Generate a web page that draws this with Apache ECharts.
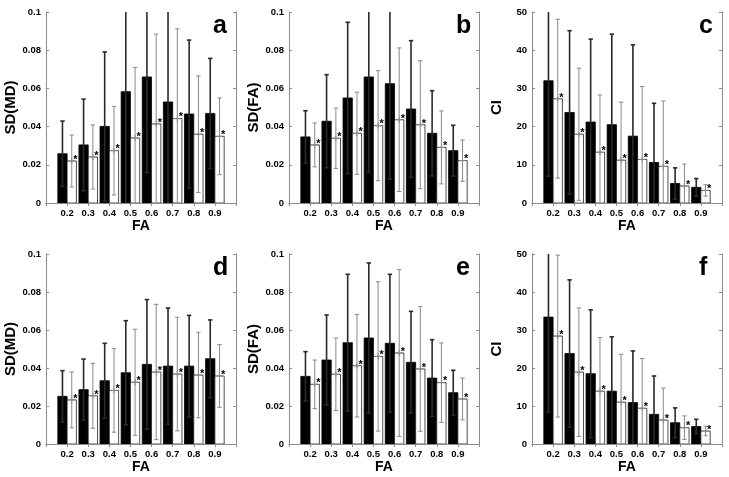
<!DOCTYPE html>
<html><head><meta charset="utf-8">
<script src="https://cdn.jsdelivr.net/npm/echarts@6/dist/echarts.min.js"></script>
<style>html,body{margin:0;padding:0;background:#fff}#c{width:729px;height:477px}</style>
</head><body><div id="c"></div>
<script>
// ---- data ----
const categories = [0.2, 0.3, 0.4, 0.5, 0.6, 0.7, 0.8, 0.9];
const xTickLabels = ['0.2', '0.3', '0.4', '0.5', '0.6', '0.7', '0.8', '0.9'];
const sdTickLabels = ['0', '0.02', '0.04', '0.06', '0.08', '0.1'];
const ciTickLabels = ['0', '10', '20', '30', '40', '50'];
const panelLetters = ['a', 'b', 'c', 'd', 'e', 'f'];
const yTitles = ['SD(MD)', 'SD(FA)', 'CI', 'SD(MD)', 'SD(FA)', 'CI'];
const xTitle = 'FA';

const aBlackMean = [0.0258, 0.0304, 0.0401, 0.0583, 0.066, 0.0529, 0.0466, 0.0469];
const aBlackSD   = [0.0171, 0.024, 0.039, 0.06, 0.05, 0.06, 0.0387, 0.0288];
const aWhiteMean = [0.022, 0.0241, 0.0274, 0.034, 0.0414, 0.0442, 0.036, 0.0349];
const aWhiteSD   = [0.0136, 0.0168, 0.0232, 0.037, 0.047, 0.047, 0.0305, 0.0201];

const bBlackMean = [0.0346, 0.0428, 0.055, 0.066, 0.0625, 0.0492, 0.0365, 0.0274];
const bBlackSD   = [0.0137, 0.0244, 0.0396, 0.05, 0.05, 0.0358, 0.0223, 0.0133];
const bWhiteMean = [0.0304, 0.0339, 0.0365, 0.0405, 0.0436, 0.041, 0.0291, 0.0222];
const bWhiteSD   = [0.0115, 0.0158, 0.0215, 0.0288, 0.0376, 0.0335, 0.0191, 0.0108];

const cBlackMean = [32.0, 23.7, 21.2, 20.5, 17.5, 10.6, 5.1, 4.1];
const cBlackSD   = [25, 21.4, 21.7, 23.7, 23.9, 15.5, 4.1, 2.3];
const cWhiteMean = [27.3, 18.0, 13.3, 11.2, 11.4, 9.6, 4.45, 3.3];
const cWhiteSD   = [20.8, 17.3, 15.0, 15.2, 19.1, 17.1, 5.75, 1.5];

const dBlackMean = [0.0251, 0.0286, 0.0333, 0.0375, 0.0419, 0.041, 0.041, 0.0449];
const dBlackSD   = [0.0135, 0.0161, 0.0197, 0.0274, 0.0341, 0.0306, 0.0267, 0.0204];
const dWhiteMean = [0.0232, 0.0254, 0.0282, 0.0325, 0.0379, 0.0368, 0.0363, 0.0358];
const dWhiteSD   = [0.0147, 0.0171, 0.022, 0.0279, 0.0356, 0.0299, 0.0225, 0.0165];

const eBlackMean = [0.0356, 0.0442, 0.0533, 0.0558, 0.053, 0.043, 0.0347, 0.027];
const eBlackSD   = [0.013, 0.0237, 0.036, 0.0395, 0.0363, 0.0268, 0.0202, 0.0118];
const eWhiteMean = [0.0314, 0.0367, 0.0412, 0.0461, 0.0479, 0.0395, 0.0323, 0.0237];
const eWhiteSD   = [0.0128, 0.0191, 0.027, 0.0393, 0.0439, 0.0328, 0.0209, 0.011];

const fBlackMean = [33.4, 23.8, 18.5, 13.9, 10.9, 7.8, 5.6, 4.6];
const fBlackSD   = [25, 19.4, 16.8, 14.3, 13.6, 10.1, 3.9, 1.9];
const fWhiteMean = [28.4, 18.9, 13.9, 11.0, 9.4, 6.3, 4.3, 3.4];
const fWhiteSD   = [21.3, 16.9, 14.1, 12.6, 13.1, 8.4, 3.1, 1.25];

const panels = [
  {bm: aBlackMean, bs: aBlackSD, wm: aWhiteMean, ws: aWhiteSD, ticks: sdTickLabels},
  {bm: bBlackMean, bs: bBlackSD, wm: bWhiteMean, ws: bWhiteSD, ticks: sdTickLabels},
  {bm: cBlackMean, bs: cBlackSD, wm: cWhiteMean, ws: cWhiteSD, ticks: ciTickLabels},
  {bm: dBlackMean, bs: dBlackSD, wm: dWhiteMean, ws: dWhiteSD, ticks: sdTickLabels},
  {bm: eBlackMean, bs: eBlackSD, wm: eWhiteMean, ws: eWhiteSD, ticks: sdTickLabels},
  {bm: fBlackMean, bs: fBlackSD, wm: fWhiteMean, ws: fWhiteSD, ticks: ciTickLabels}
];

// ---- layout ----
const gridPos = [
  {left: 46, top: 12, width: 190, height: 191},
  {left: 289, top: 12, width: 190, height: 191},
  {left: 532, top: 12, width: 190, height: 191},
  {left: 46, top: 254, width: 190, height: 190},
  {left: 289, top: 254, width: 190, height: 190},
  {left: 532, top: 254, width: 190, height: 190}
];
const BAR_W = 0.044;   // width of one bar in x-axis units
const FONT = 'Liberation Sans, Arial, sans-serif';
const AXIS_COLOR = '#8c8c8c';

const chart = echarts.init(document.getElementById('c'));

function makeRender(yMax) {
  return function (params, api) {
    const x = api.value(0), bm = api.value(1), bs = api.value(2), wm = api.value(3), ws = api.value(4);
    const w = api.size([BAR_W, 0])[0];
    const c = api.coord([x, 0]);
    const cx = c[0], y0 = c[1];
    const yTopAxis = api.coord([x, yMax])[1];
    const Y = v => api.coord([x, v])[1];
    const children = [];
    const yb = Y(bm);
    children.push({type: 'rect', shape: {x: cx - w, y: yb, width: w, height: y0 - yb},
      style: {fill: '#000', stroke: '#000', lineWidth: 0.8}});
    const yw = Y(wm);
    children.push({type: 'rect', shape: {x: cx, y: yw, width: w, height: y0 - yw},
      style: {fill: '#fff', stroke: '#222', lineWidth: 0.8}});
    function errBar(xc, m, s, color, lw, cap) {
      const hi = m + s, lo = m - s;
      const yHi = hi > yMax ? yTopAxis : Y(hi);
      const yLo = lo < 0 ? y0 : Y(lo);
      children.push({type: 'line', shape: {x1: xc, y1: yLo, x2: xc, y2: yHi}, style: {stroke: color, lineWidth: lw}});
      if (hi <= yMax) children.push({type: 'line', shape: {x1: xc - cap, y1: yHi, x2: xc + cap, y2: yHi}, style: {stroke: color, lineWidth: lw}});
      if (lo >= 0) children.push({type: 'line', shape: {x1: xc - cap, y1: yLo, x2: xc + cap, y2: yLo}, style: {stroke: color, lineWidth: lw}});
    }
    errBar(cx - w / 2, bm, bs, '#2a2a2a', 1.6, 2.2);
    const xw = cx + w / 2;
    errBar(xw, wm, ws, '#8a8a8a', 1, 2.2);
    children.push({type: 'line', shape: {x1: xw - 3, y1: yw, x2: xw + 3, y2: yw}, style: {stroke: '#8a8a8a', lineWidth: 1}});
    children.push({type: 'line', shape: {x1: xw, y1: yw - 3, x2: xw, y2: yw + 3}, style: {stroke: '#8a8a8a', lineWidth: 1}});
    children.push({type: 'text', style: {text: '*', x: xw + 3.6, y: yw - 1.2, font: 'bold 11px ' + FONT,
      fill: '#000', align: 'center', verticalAlign: 'middle'}});
    return {type: 'group', children: children};
  };
}

const grid = [], xAxis = [], yAxis = [], series = [], graphic = [];
panels.forEach((p, i) => {
  grid.push(Object.assign({containLabel: false}, gridPos[i]));
  const yMax = Number(p.ticks[p.ticks.length - 1]);
  const yInt = Number(p.ticks[1]);
  const tickStyle = {show: true, inside: true, length: 3, lineStyle: {color: AXIS_COLOR}};
  xAxis.push({
    type: 'value', gridIndex: i, min: 0.1, max: 1.0, interval: 0.1, position: 'bottom',
    axisLine: {show: true, lineStyle: {color: AXIS_COLOR, width: 1}},
    axisTick: tickStyle, splitLine: {show: false},
    axisLabel: {show: true, margin: 5, color: '#000', fontWeight: 'bold', fontSize: 9.5, fontFamily: FONT,
      formatter: v => { const k = categories.findIndex(c => Math.abs(c - v) < 1e-6); return k >= 0 ? xTickLabels[k] : ''; }},
    name: xTitle, nameLocation: 'middle', nameGap: 14,
    nameTextStyle: {color: '#000', fontWeight: 'bold', fontSize: 14, fontFamily: FONT}
  });
  xAxis.push({
    type: 'value', gridIndex: i, min: 0.1, max: 1.0, interval: 0.1, position: 'top',
    axisLine: {show: true, lineStyle: {color: AXIS_COLOR, width: 1}},
    axisTick: tickStyle, axisLabel: {show: false}, splitLine: {show: false}
  });
  yAxis.push({
    type: 'value', gridIndex: i, min: 0, max: yMax, interval: yInt, position: 'left',
    axisLine: {show: true, lineStyle: {color: AXIS_COLOR, width: 1}},
    axisTick: tickStyle, splitLine: {show: false},
    axisLabel: {show: true, margin: 5, color: '#000', fontWeight: 'bold', fontSize: 9.5, fontFamily: FONT,
      formatter: v => { const k = p.ticks.findIndex(t => Math.abs(Number(t) - v) < 1e-9); return k >= 0 ? p.ticks[k] : ''; }},
    name: yTitles[i], nameLocation: 'middle', nameGap: 28, nameRotate: 90,
    nameTextStyle: {color: '#000', fontWeight: 'bold', fontSize: 15, fontFamily: FONT}
  });
  yAxis.push({
    type: 'value', gridIndex: i, min: 0, max: yMax, interval: yInt, position: 'right',
    axisLine: {show: true, lineStyle: {color: AXIS_COLOR, width: 1}},
    axisTick: tickStyle, axisLabel: {show: false}, splitLine: {show: false}
  });
  const data = categories.map((c, k) => [c, p.bm[k], p.bs[k], p.wm[k], p.ws[k]]);
  series.push({
    type: 'custom', xAxisIndex: 2 * i, yAxisIndex: 2 * i, data: data,
    encode: {x: 0, y: [1]}, renderItem: makeRender(yMax), clip: true, silent: true, animation: false
  });
  const g = gridPos[i];
  graphic.push({type: 'text', left: g.left + g.width - 23, top: g.top + 2,
    style: {text: panelLetters[i], font: 'bold 25px ' + FONT, fill: '#000'}});
});

chart.setOption({animation: false, backgroundColor: '#fff', grid, xAxis, yAxis, series, graphic});
</script>
</body></html>
